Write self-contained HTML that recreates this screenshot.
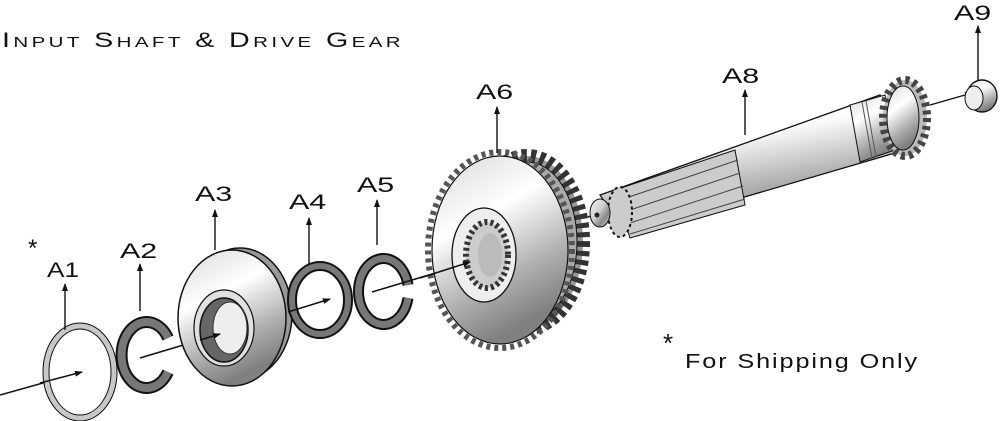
<!DOCTYPE html>
<html><head><meta charset="utf-8"><style>
html,body{margin:0;padding:0;background:#fff;width:1000px;height:421px;overflow:hidden}
svg{display:block}
text{font-family:"Liberation Sans",sans-serif;fill:#111}
</style></head><body>
<svg width="1000" height="421" viewBox="0 0 1000 421" xmlns="http://www.w3.org/2000/svg">
<defs>
<linearGradient id="m" x1="0" y1="0" x2="1" y2="1">
<stop offset="0" stop-color="#f4f4f4"/><stop offset="0.45" stop-color="#cfcfcf"/><stop offset="0.7" stop-color="#8a8a8a"/><stop offset="1" stop-color="#d8d8d8"/></linearGradient>
<linearGradient id="s" x1="0" y1="0" x2="0.4" y2="1">
<stop offset="0" stop-color="#d8d8d8"/><stop offset="0.4" stop-color="#ffffff"/><stop offset="0.75" stop-color="#b0b0b0"/><stop offset="1" stop-color="#808080"/></linearGradient>
<marker id="a" markerWidth="8" markerHeight="8" refX="7" refY="4" orient="auto" markerUnits="userSpaceOnUse"><path d="M0,1 L8,4 L0,7 z" fill="#111"/></marker>
</defs>
<text x="2" y="47" font-size="21" style="font-variant:small-caps;letter-spacing:2.5px" textLength="402" lengthAdjust="spacingAndGlyphs">Input Shaft &amp; Drive Gear</text>

<!-- axis -->
<line x1="0" y1="395" x2="50" y2="381" stroke="#111" stroke-width="1.5"/>
<line x1="585" y1="218" x2="600" y2="213" stroke="#111" stroke-width="1.3"/>
<line x1="930" y1="105" x2="972" y2="93" stroke="#111" stroke-width="1.3" marker-end="url(#a)"/>

<!-- A1 -->
<ellipse cx="80" cy="372" rx="34" ry="46" fill="none" stroke="#111" stroke-width="7"/>
<ellipse cx="80" cy="372" rx="34" ry="46" fill="none" stroke="#c8c8c8" stroke-width="5"/>
<line x1="40" y1="383" x2="82" y2="372" stroke="#111" stroke-width="1.5" marker-end="url(#a)"/>
<!-- A2 -->
<path d="M168,338 A25,33 0 1 0 168,372" fill="none" stroke="#111" stroke-width="12"/>
<path d="M168,338 A25,33 0 1 0 168,372" fill="none" stroke="#777" stroke-width="8"/>
<line x1="140" y1="358" x2="220" y2="334" stroke="#111" stroke-width="1.5" marker-end="url(#a)"/>
<!-- A3 -->
<ellipse cx="240" cy="314" rx="52" ry="66" fill="#999" stroke="#111" stroke-width="1.5"/>
<ellipse cx="232" cy="318" rx="54" ry="68" fill="url(#s)" stroke="#111" stroke-width="1.5"/>
<ellipse cx="224" cy="328" rx="30" ry="38" fill="#e0e0e0" stroke="#111" stroke-width="1.2"/>
<ellipse cx="224" cy="330" rx="24" ry="32" fill="#666" stroke="#111" stroke-width="1.5"/>
<ellipse cx="230" cy="328" rx="17" ry="26" fill="#eee" stroke="#333"/>
<line x1="200" y1="340" x2="220" y2="334" stroke="#111" stroke-width="1.5" marker-end="url(#a)"/>
<!-- A4 -->
<ellipse cx="320" cy="300" rx="28" ry="34" fill="none" stroke="#111" stroke-width="10"/>
<ellipse cx="320" cy="300" rx="28" ry="34" fill="none" stroke="#777" stroke-width="6"/>
<line x1="288" y1="312" x2="330" y2="299" stroke="#111" stroke-width="1.5" marker-end="url(#a)"/>
<!-- A5 -->
<path d="M408,285 A25,33 0 1 0 408,298" fill="none" stroke="#111" stroke-width="11"/>
<path d="M408,285 A25,33 0 1 0 408,298" fill="none" stroke="#777" stroke-width="7"/>
<line x1="372" y1="292" x2="462" y2="265" stroke="#111" stroke-width="1.5" marker-end="url(#a)"/>
<!-- A6 gear -->
<ellipse cx="527" cy="242" rx="56" ry="86" fill="#999" stroke="#333" stroke-width="14" stroke-dasharray="5 4"/>
<ellipse cx="527" cy="242" rx="50" ry="80" fill="#aaa" stroke="#111"/>
<ellipse cx="500" cy="250" rx="72" ry="98" fill="none" stroke="#555" stroke-width="6" stroke-dasharray="4 4"/>
<ellipse cx="500" cy="250" rx="68" ry="94" fill="url(#s)" stroke="#111" stroke-width="1.2"/>
<ellipse cx="484" cy="255" rx="32" ry="47" fill="#eee" stroke="#111" stroke-width="1.3"/>
<ellipse cx="487" cy="255" rx="21" ry="33" fill="#ccc" stroke="#333" stroke-width="6" stroke-dasharray="3 3"/>
<ellipse cx="490" cy="255" rx="12" ry="22" fill="#bbb"/>
<line x1="420" y1="278" x2="470" y2="262" stroke="#111" stroke-width="1.5" marker-end="url(#a)"/>
<!-- A8 shaft -->
<polygon points="600,195 880,95 905,150 625,232" fill="url(#s)" stroke="#111" stroke-width="1.3"/>
<polygon points="615,190 735,150 745,205 630,238" fill="#ccc" stroke="#111"/>
<g stroke="#444" stroke-width="1"><line x1="620" y1="200" x2="738" y2="160"/><line x1="624" y1="212" x2="740" y2="173"/><line x1="627" y1="224" x2="743" y2="186"/><line x1="630" y1="234" x2="745" y2="199"/></g>
<ellipse cx="620" cy="212" rx="12" ry="25" fill="#ccc" stroke="#111" stroke-width="2" stroke-dasharray="3 3"/>
<ellipse cx="600" cy="213" rx="10" ry="14" fill="url(#m)" stroke="#111"/>
<circle cx="597" cy="215" r="2.5" fill="#222"/>
<polygon points="850,105 885,95 895,150 860,162" fill="url(#s)" stroke="#111"/>
<g stroke="#555"><line x1="862" y1="102" x2="872" y2="158"/><line x1="866" y1="101" x2="876" y2="157"/></g>
<ellipse cx="905" cy="118" rx="22" ry="38" fill="#bbb" stroke="#444" stroke-width="8" stroke-dasharray="4 4"/>
<ellipse cx="903" cy="118" rx="16" ry="32" fill="url(#s)" stroke="#111"/>
<!-- A9 -->
<ellipse cx="982" cy="96" rx="15" ry="16" fill="url(#s)" stroke="#111" stroke-width="1.4"/>
<ellipse cx="974" cy="98" rx="9" ry="12" fill="#eee" stroke="#111"/>

<!-- leader arrows -->
<g stroke="#111" stroke-width="1.4" marker-end="url(#a)">
<line x1="65" y1="330" x2="65" y2="284"/>
<line x1="140" y1="311" x2="140" y2="264"/>
<line x1="215" y1="250" x2="215" y2="210"/>
<line x1="309" y1="265" x2="309" y2="218"/>
<line x1="377" y1="245" x2="377" y2="200"/>
<line x1="497" y1="153" x2="497" y2="107"/>
<line x1="745" y1="135" x2="745" y2="90"/>
<line x1="978" y1="80" x2="978" y2="26"/>
</g>
<g font-size="21">
<text transform="translate(47,277) scale(1.25,1)">A1</text>
<text transform="translate(120,258) scale(1.45,1)">A2</text>
<text transform="translate(195,201) scale(1.45,1)">A3</text>
<text transform="translate(289,209) scale(1.45,1)">A4</text>
<text transform="translate(357,192) scale(1.45,1)">A5</text>
<text transform="translate(476,99) scale(1.45,1)">A6</text>
<text transform="translate(722,83) scale(1.45,1)">A8</text>
<text transform="translate(954,20) scale(1.45,1)">A9</text>
</g>
<text x="28" y="256" font-size="24">*</text>
<text x="663" y="352" font-size="26">*</text>
<text x="685" y="368" font-size="20" style="letter-spacing:1.5px" textLength="234" lengthAdjust="spacingAndGlyphs">For Shipping Only</text>
</svg>
</body></html>
